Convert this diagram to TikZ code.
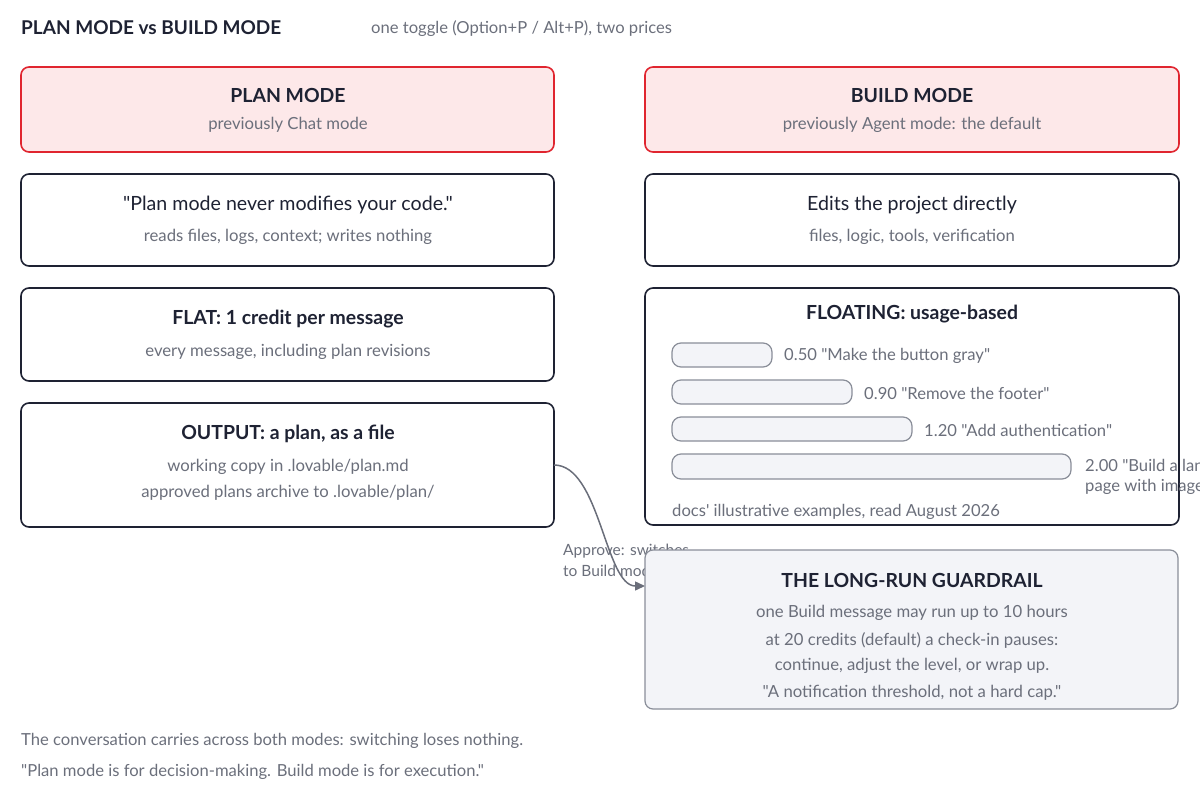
\documentclass[tikz,border=0pt]{standalone}
\usepackage{fontspec}
\setmainfont{Lato}[Ligatures=TeXOff]
\usetikzlibrary{arrows.meta}
\definecolor{ink}{HTML}{1E2233}
\definecolor{muted}{HTML}{6B6F7B}
\definecolor{redline}{HTML}{E0252F}
\definecolor{pinkfill}{HTML}{FDE8E9}
\definecolor{greyfill}{HTML}{F3F4F8}
\definecolor{greyline}{HTML}{8A8E99}
\tikzset{
  modebox/.style={draw=redline, fill=pinkfill, line width=1.6pt, rounded corners=8pt},
  plainbox/.style={draw=ink, fill=white, line width=1.6pt, rounded corners=8pt},
  guardbox/.style={draw=greyline, fill=greyfill, line width=1.2pt, rounded corners=8pt},
  bar/.style={draw=greyline, fill=greyfill, line width=1.2pt, rounded corners=9pt},
  head/.style={font=\fontsize{19.4}{23}\selectfont\bfseries, text=ink},
  sub/.style={font=\fontsize{16.7}{20}\selectfont, text=muted},
  note/.style={font=\fontsize{16.6}{20}\selectfont, text=muted, anchor=west, inner sep=0pt},
}
\begin{document}
\begin{tikzpicture}[x=1pt,y=-1pt]
    \useasboundingbox (0,0) rectangle (1200,800);
    \clip (0,0) rectangle (1200,800);

    % Title
    \node[anchor=west, inner sep=0pt, font=\fontsize{19}{22}\selectfont\bfseries, text=ink] (title) at (21,28) {PLAN MODE vs BUILD MODE};
    \node[note] (subtitle) at (371,29) {one toggle (Option+P / Alt+P), two prices};

    % Left column
    \draw[modebox] (21,67) rectangle (554,152);
    \node[head] (plan) at (288,95) {PLAN MODE};
    \node[sub] (plansub) at (288,125) {previously Chat mode};

    \draw[plainbox] (21,174) rectangle (554,266);
    \node[font=\fontsize{19.6}{23}\selectfont, text=ink] (quote) at (288,205) {"Plan mode never modifies your code."};
    \node[sub] (reads) at (288,237) {reads files, logs, context; writes nothing};

    \draw[plainbox] (21,288) rectangle (554,381);
    \node[head] (flat) at (288,319) {FLAT: 1 credit per message};
    \node[sub] (every) at (288,352) {every message, including plan revisions};

    \draw[plainbox] (21,403) rectangle (554,527);
    \coordinate (outR) at (554,465);
    \node[head] (output) at (288,434) {OUTPUT: a plan, as a file};
    \node[sub] (copy) at (288,467) {working copy in .lovable/plan.md};
    \node[sub] (archive) at (288,493) {approved plans archive to .lovable/plan/};

    % Right column
    \draw[modebox] (645,67) rectangle (1179,152);
    \node[head] (build) at (912,95) {BUILD MODE};
    \node[sub] (buildsub) at (912,125) {previously Agent mode: the default};

    \draw[plainbox] (645,174) rectangle (1179,266);
    \node[font=\fontsize{19.6}{23}\selectfont, text=ink] (edits) at (912,205) {Edits the project directly};
    \node[sub] (files) at (912,237) {files, logic, tools, verification};

    \draw[plainbox] (645,288) rectangle (1179,525);
    \node[head] (floating) at (912,314) {FLOATING: usage-based};
    \foreach \y/\xe/\lab in {355/772/{0.50 "Make the button gray"},
                             392/852/{0.90 "Remove the footer"},
                             429/912/{1.20 "Add authentication"}} {
        \draw[bar] (672,\y-12) rectangle (\xe,\y+12);
        \node[note] at (\xe+12,\y+1) {\lab};
    }
    \draw[bar] (672,454) rectangle (1071,479);
    \node[note, align=left] (land) at (1085,477) {2.00 "Build a landing\\page with images"};
    \node[note] (docs) at (672,512) {docs' illustrative examples, read August 2026};

    % Approve connector
    \node[note, align=left, font=\fontsize{15.5}{21}\selectfont] (approve) at (563,560) {Approve: switches\\to Build mode};
    \coordinate (guardL) at (645,586);
    \draw[-{Triangle[length=10pt,width=9pt]}, greyline!70!ink, line width=1.5pt]
        (outR) .. controls (600,465) and (605,586) .. (guardL);

    % Guardrail
    \draw[guardbox] (645,550) rectangle (1178,709);
    \node[head] (guard) at (912,580) {THE LONG-RUN GUARDRAIL};
    \node[sub] (g1) at (912,613) {one Build message may run up to 10 hours};
    \node[sub] (g2) at (912,640) {at 20 credits (default) a check-in pauses:};
    \node[sub] (g3) at (912,666) {continue, adjust the level, or wrap up.};
    \node[sub] (g4) at (912,693) {"A notification threshold, not a hard cap."};

    % Footer
    \node[note] (carry) at (21,741) {The conversation carries across both modes: switching loses nothing.};
    \node[note] (motto) at (21,772) {"Plan mode is for decision-making. Build mode is for execution."};
\end{tikzpicture}
\end{document}
